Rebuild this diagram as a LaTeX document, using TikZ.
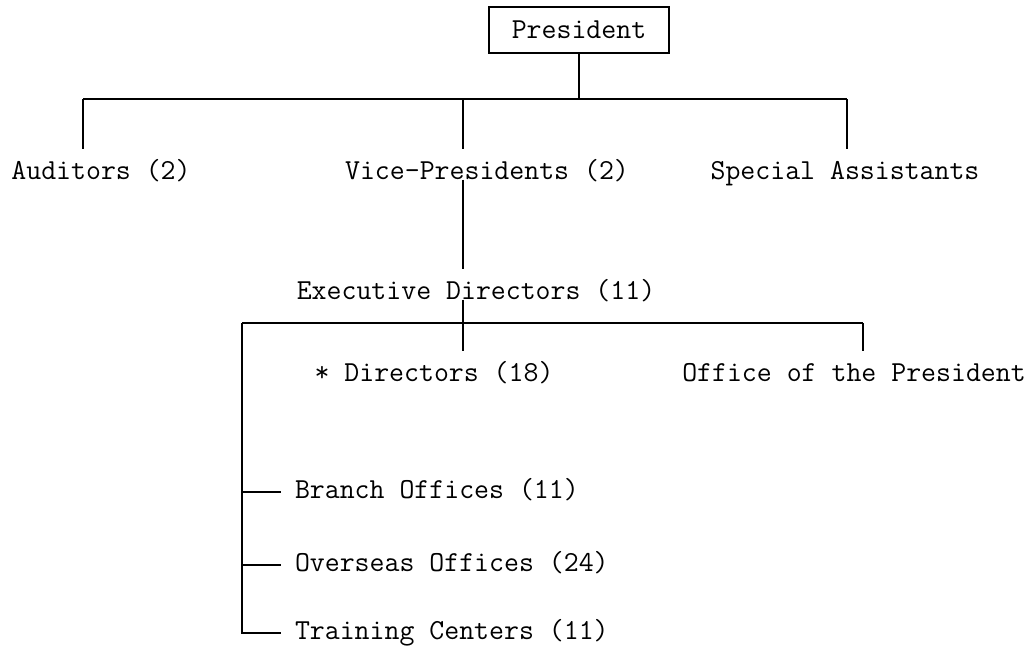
\documentclass[tikz,border=0pt]{standalone}
\usepackage{fontspec}
\usepackage{tikz}

\begin{document}
\begin{tikzpicture}[x=1pt,y=-1pt,box/.style={draw,rectangle,minimum width=180pt,minimum height=46pt,inner sep=0pt,line width=1.1pt},lbl/.style={inner sep=0pt,outer xsep=14pt,outer ysep=13pt,text height=18pt,text depth=5pt},conn/.style={line width=1.3pt},font=\ttfamily\fontsize{29}{34}\selectfont]
\useasboundingbox (0,0) rectangle (1032,659);
\node[box] (pres) at (579,30) {President};
\node[lbl] (aud) at (101,173) {Auditors (2)};
\node[lbl] (vp) at (487,173) {Vice-Presidents (2)};
\node[lbl] (spec) at (845,173) {Special Assistants};
\node[lbl] (exd) at (476,293) {Executive Directors (11)};
\node[lbl] (dir) at (434,375) {* Directors (18)};
\node[lbl] (off) at (854,375) {Office of the President};
\node[lbl,anchor=west] (bra) at (281,492) {Branch Offices (11)};
\node[lbl,anchor=west] (ovs) at (281,565) {Overseas Offices (24)};
\node[lbl,anchor=west] (trn) at (281,633) {Training Centers (11)};
% bus lines
\coordinate (b1l) at (83,99); \coordinate (b1m) at (463,99); \coordinate (b1r) at (847,99);
\coordinate (b2l) at (242,323); \coordinate (b2r) at (863,323);
\draw[conn] (pres.south) -- (pres.south |- b1m);
\draw[conn] (b1l) -- (b1r);
\draw[conn] (b1l) -- (b1l |- aud.north); \draw[conn] (b1m) -- (b1m |- vp.north); \draw[conn] (b1r) -- (b1r |- spec.north);
\draw[conn] (b1m |- vp.base) -- (b1m |- exd.north);
\draw[conn] (b1m |- exd.base) -- (b1m |- dir.north);
\draw[conn] (b2l) -- (b2r); \draw[conn] (b2r) -- (b2r |- off.north);
\draw[conn] (b2l) |- (trn.west);
\draw[conn] (b2l |- bra.west) -- (bra.west); \draw[conn] (b2l |- ovs.west) -- (ovs.west);
\end{tikzpicture}
\end{document}
